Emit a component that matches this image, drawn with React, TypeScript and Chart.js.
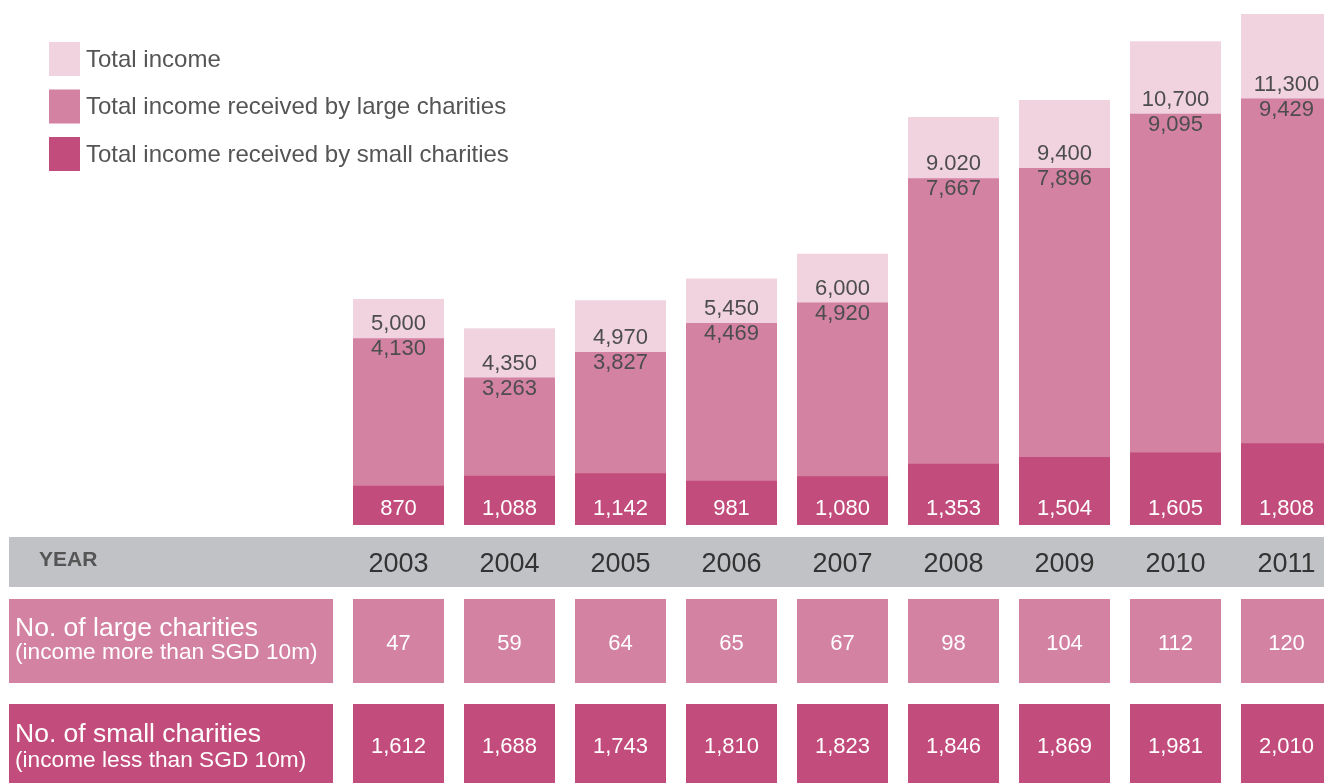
import React, { useEffect, useRef } from "react";
import { Chart, registerables } from "chart.js";

Chart.register(...registerables);

// ---------- data ----------
const years = ["2003", "2004", "2005", "2006", "2007", "2008", "2009", "2010", "2011"];
const totalIncome = [5000, 4350, 4970, 5450, 6000, 9020, 9400, 10700, 11300];
const totalIncomeLabels = ["5,000", "4,350", "4,970", "5,450", "6,000", "9.020", "9,400", "10,700", "11,300"];
const largeIncome = [4130, 3263, 3827, 4469, 4920, 7667, 7896, 9095, 9429];
const smallIncome = [870, 1088, 1142, 981, 1080, 1353, 1504, 1605, 1808];
const largeCount = [47, 59, 64, 65, 67, 98, 104, 112, 120];
const smallCount = [1612, 1688, 1743, 1810, 1823, 1846, 1869, 1981, 2010];

const legendLabels = [
  "Total income",
  "Total income received by large charities",
  "Total income received by small charities",
];
const largeRowTitle = ["No. of large charities", "(income more than SGD 10m)"];
const smallRowTitle = ["No. of small charities", "(income less than SGD 10m)"];
const yearHeader = "YEAR";

// ---------- style ----------
const LIGHT = "#f1d3df";
const MEDIUM = "#d482a2";
const DARK = "#c24c7b";
const GRAY = "#c1c2c6";
const TEXT = "#4d4d4d";
const FONT = '"Liberation Sans", Arial, Helvetica, sans-serif';

const fmt = (n: number) => n.toLocaleString("en-US");

const infographicPlugin = {
  id: "infographic",
  beforeDraw(chart: any) {
    const ctx = chart.ctx as CanvasRenderingContext2D;
    const bottom = chart.chartArea.bottom;
    const meta = chart.getDatasetMeta(0);
    ctx.save();
    // YEAR band
    const bandTop = bottom + 12;
    ctx.fillStyle = GRAY;
    ctx.fillRect(9, bandTop, chart.width, 50);
    ctx.fillStyle = "#555555";
    ctx.font = `bold 21px ${FONT}`;
    ctx.textBaseline = "middle";
    ctx.textAlign = "left";
    ctx.fillText(yearHeader, 39, bandTop + 23);

    // rows
    const rows = [
      { top: bottom + 74, h: 84, color: MEDIUM, title: largeRowTitle, values: largeCount, l1: 30, l2: 54, v: 45 },
      { top: bottom + 179, h: 84, color: DARK, title: smallRowTitle, values: smallCount, l1: 31, l2: 57, v: 43 },
    ];
    rows.forEach((row) => {
      ctx.fillStyle = row.color;
      ctx.fillRect(9, row.top, 324, row.h);
      ctx.fillStyle = "#ffffff";
      ctx.textAlign = "left";
      ctx.font = `26.5px ${FONT}`;
      ctx.fillText(row.title[0], 15, row.top + row.l1);
      ctx.font = `22.7px ${FONT}`;
      ctx.fillText(row.title[1], 15, row.top + row.l2);
      meta.data.forEach((bar: any, i: number) => {
        const { x, width } = bar.getProps(["x", "width"], true);
        ctx.fillStyle = row.color;
        ctx.fillRect(x - width / 2, row.top, width, row.h);
        ctx.fillStyle = "#ffffff";
        ctx.textAlign = "center";
        ctx.font = `22px ${FONT}`;
        ctx.fillText(fmt(row.values[i]), x, row.top + row.v);
      });
    });
    ctx.restore();
  },
  afterDatasetsDraw(chart: any) {
    const ctx = chart.ctx as CanvasRenderingContext2D;
    const yScale = chart.scales.y;
    const bottom = chart.chartArea.bottom;
    const meta = chart.getDatasetMeta(0);
    ctx.save();
    ctx.textAlign = "center";
    ctx.textBaseline = "middle";
    ctx.font = `22px ${FONT}`;
    meta.data.forEach((bar: any, i: number) => {
      const { x } = bar.getProps(["x"], true);
      const largeTop = yScale.getPixelForValue(largeIncome[i]);
      ctx.fillStyle = TEXT;
      ctx.fillText(totalIncomeLabels[i], x, largeTop - 14);
      ctx.fillText(fmt(largeIncome[i]), x, largeTop + 11);
      ctx.fillStyle = "#ffffff";
      ctx.fillText(fmt(smallIncome[i]), x, bottom - 16);
    });
    ctx.restore();
  },
  afterDraw(chart: any) {
    const ctx = chart.ctx as CanvasRenderingContext2D;
    ctx.save();
    const colors = [LIGHT, MEDIUM, DARK];
    ctx.font = `24px ${FONT}`;
    ctx.textAlign = "left";
    ctx.textBaseline = "middle";
    legendLabels.forEach((label, i) => {
      const top = 42 + i * 47.5;
      ctx.fillStyle = colors[i];
      ctx.fillRect(49, top, 31, 34);
      ctx.fillStyle = "#555555";
      ctx.fillText(label, 86, top + 18);
    });
    ctx.restore();
  },
};

export default function App() {
  const canvasRef = useRef<HTMLCanvasElement | null>(null);

  useEffect(() => {
    if (!canvasRef.current) return;
    const chart = new Chart(canvasRef.current, {
      type: "bar",
      data: {
        labels: years,
        datasets: [
          { label: legendLabels[2], data: smallIncome, backgroundColor: DARK, grouped: false, barPercentage: 0.82, categoryPercentage: 1 } as any,
          { label: legendLabels[1], data: largeIncome, backgroundColor: MEDIUM, grouped: false, barPercentage: 0.82, categoryPercentage: 1 } as any,
          { label: legendLabels[0], data: totalIncome, backgroundColor: LIGHT, grouped: false, barPercentage: 0.82, categoryPercentage: 1 } as any,
        ],
      },
      options: {
        responsive: false,
        animation: false,
        layout: { padding: { left: 343, right: 18, top: 14, bottom: 0 } },
        plugins: { legend: { display: false }, tooltip: { enabled: false } },
        scales: {
          x: {
            grid: { display: false, drawTicks: false },
            border: { display: false },
            ticks: { color: "#333333", font: { family: FONT, size: 27 }, padding: 23, maxRotation: 0 },
            afterFit: (axis: any) => {
              axis.height = 258;
            },
          },
          y: { display: false, min: 0, max: 11300 },
        },
      },
      plugins: [infographicPlugin],
    });
    return () => chart.destroy();
  }, []);

  return (
    <div style={{ position: "fixed", left: 0, top: 0, width: 1324, height: 783, overflow: "hidden", background: "#ffffff" }}>
      <canvas ref={canvasRef} width={1360} height={783} style={{ display: "block", width: 1360, height: 783 }} />
    </div>
  );
}
